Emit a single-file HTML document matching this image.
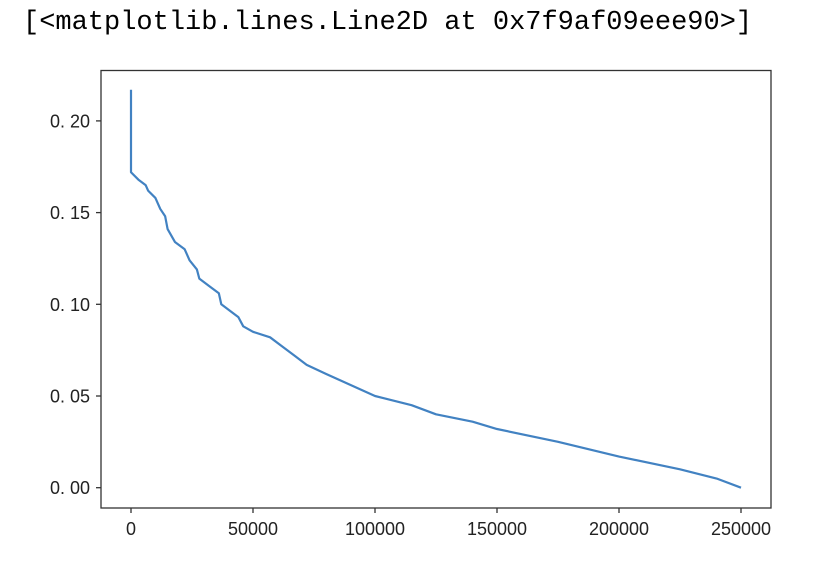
<!DOCTYPE html>
<html><head><meta charset="utf-8"><style>
body{margin:0;background:#fff;width:832px;height:568px;overflow:hidden}
#out{position:absolute;left:23px;top:5px;font-family:"Liberation Mono",monospace;font-size:27px;line-height:36px;color:#000;white-space:pre}
svg{position:absolute;left:0;top:0}
text{font-family:"Liberation Sans",sans-serif;font-size:18px;fill:#222}
</style></head><body>
<div id="out">[&lt;matplotlib.lines.Line2D at 0x7f9af09eee90&gt;]</div>
<svg id="c" width="832" height="568"></svg>
<script>
const xs=[0,0,3,6,7,10,12,14,15,18,22,24,27,28,32,36,37,41,44,46,50,57,62,67,72,80,90,100,115,125,140,150,175,200,225,240,250];
const ys=[0.217,0.172,0.168,0.165,0.162,0.158,0.152,0.148,0.141,0.134,0.130,0.124,0.119,0.114,0.110,0.106,0.100,0.096,0.093,0.088,0.085,0.082,0.077,0.072,0.067,0.062,0.056,0.050,0.045,0.040,0.036,0.032,0.025,0.017,0.010,0.005,0.000];
const xTicks=[0,50000,100000,150000,200000,250000];
const yTicks=[0,0.05,0.10,0.15,0.20];
const yLabels=["0. 00","0. 05","0. 10","0. 15","0. 20"];
const X=v=>131+v*(610/250000);
const Y=v=>487.7-v*(91.7/0.05);
const svg=document.getElementById('c');const NS='http://www.w3.org/2000/svg';
function mk(t,a,p){const e=document.createElementNS(NS,t);for(const k in a)e.setAttribute(k,a[k]);(p||svg).appendChild(e);return e;}
const fr=mk('rect',{x:101,y:70.5,width:670,height:437.5,fill:'none',stroke:'#333','stroke-width':1.3});


xTicks.forEach(t=>{
 const l=mk('line',{x1:X(t),x2:X(t),y1:508,y2:513,stroke:'#333','stroke-width':1.3});
 
 
 const tx=mk('text',{x:X(t),y:535,'text-anchor':'middle'});tx.textContent=String(t);
 
 
});
yTicks.forEach((t,i)=>{
 const l=mk('line',{x1:96,x2:101,y1:Y(t),y2:Y(t),stroke:'#333','stroke-width':1.3});
 
 
 const tx=mk('text',{x:90,y:Y(t)+6.5,'text-anchor':'end'});tx.textContent=yLabels[i];
 
 
});
const pl=mk('polyline',{points:xs.map((x,i)=>X(x*1000)+','+Y(ys[i])).join(' '),fill:'none',stroke:'#4282c2','stroke-width':2.2,'stroke-linejoin':'round'});


</script>
</body></html>
